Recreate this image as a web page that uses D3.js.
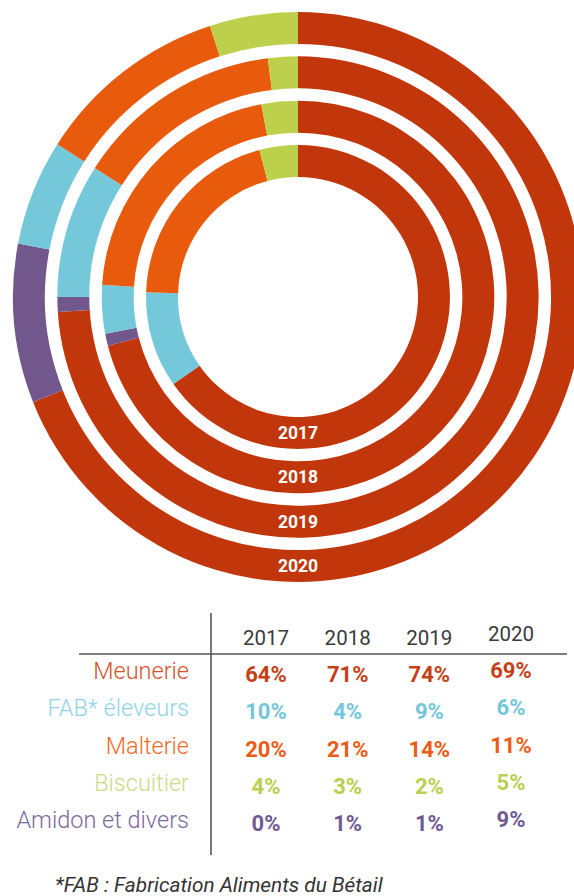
<!DOCTYPE html>
<html>
<head>
<meta charset="utf-8">
<script src="https://cdn.jsdelivr.net/npm/d3@7"></script>
<style>
  body { margin: 0; background: #fff; }
  svg { display: block; font-family: Roboto, "Open Sans", sans-serif; }
</style>
</head>
<body>
<div id="chart"></div>
<script>
// data
const years = ["2017", "2018", "2019", "2020"];
const categories = ["Meunerie", "FAB* éleveurs", "Malterie", "Biscuitier", "Amidon et divers"];
const meunerie = [64, 71, 74, 69];
const fab = [10, 4, 9, 6];
const malterie = [20, 21, 14, 11];
const biscuitier = [4, 3, 2, 5];
const amidon = [0, 1, 1, 9];
const footnote = "*FAB : Fabrication Aliments du Bétail";

function main() {
    const width = 574;
    const height = 896;

    const series = {
        "Meunerie": meunerie,
        "FAB* éleveurs": fab,
        "Malterie": malterie,
        "Biscuitier": biscuitier,
        "Amidon et divers": amidon
    };

    // ring colours / text colours
    const ringColor = d3.scaleOrdinal()
        .domain(categories)
        .range(["#c1370b", "#74c8da", "#e85a0c", "#bcd04b", "#72578d"]);
    const labelColor = d3.scaleOrdinal()
        .domain(categories)
        .range(["#d4532f", "#8fd4e4", "#f06a28", "#cadc8a", "#7d6a9c"]);
    const valueColor = d3.scaleOrdinal()
        .domain(categories)
        .range(["#c53f17", "#74c6da", "#ec5c16", "#b9cf50", "#6f5a93"]);

    // clockwise order of the slices starting at 12 o'clock
    const ringOrder = ["Meunerie", "Amidon et divers", "FAB* éleveurs", "Malterie", "Biscuitier"];

    const svg = d3.select("#chart").append("svg")
        .attr("width", width)
        .attr("height", height);

    const cx = 298, cy = 297;

    const radius = d3.scaleBand()
        .domain(years)
        .range([120, 285])
        .paddingInner(0.28);

    const pie = d3.pie().sort(null).value(d => d.value);
    const arc = d3.arc();

    const rings = svg.append("g")
        .attr("transform", `translate(${cx},${cy})`);

    years.forEach((yr, i) => {
        const rows = ringOrder.map(c => ({ key: c, value: series[c][i] }));
        const r0 = radius(yr), r1 = r0 + radius.bandwidth();
        rings.append("g")
            .selectAll("path")
            .data(pie(rows).filter(d => d.data.value > 0))
            .enter().append("path")
            .attr("fill", d => ringColor(d.data.key))
            .attr("d", d => arc.innerRadius(r0).outerRadius(r1)(d));

        rings.append("text")
            .attr("x", 0)
            .attr("y", (r0 + r1) / 2 + 6)
            .attr("text-anchor", "middle")
            .attr("fill", "#fff")
            .attr("font-size", 17.5)
            .attr("font-weight", 700)
            .text(yr);
    });

    // table
    const x = d3.scalePoint()
        .domain(years)
        .range([266, 511]);
    const y = d3.scalePoint()
        .domain(categories)
        .range([679, 828]);
    // last column sits a little higher in the original
    const colShift = yr => yr === "2020" ? -4 : 0;

    const table = svg.append("g");

    table.append("line")
        .attr("x1", 79).attr("x2", 567)
        .attr("y1", 654).attr("y2", 654)
        .attr("stroke", "#555")
        .attr("stroke-width", 1.6);

    table.append("line")
        .attr("x1", 211).attr("x2", 211)
        .attr("y1", 613).attr("y2", 855)
        .attr("stroke", "#555")
        .attr("stroke-width", 1.6);

    table.selectAll(".head")
        .data(years)
        .enter().append("text")
        .attr("class", "head")
        .attr("x", d => x(d))
        .attr("y", d => 645 + colShift(d))
        .attr("text-anchor", "middle")
        .attr("font-size", 20.5)
        .attr("fill", "#3a3a3a")
        .text(d => d);

    table.selectAll(".rowlabel")
        .data(categories)
        .enter().append("text")
        .attr("class", "rowlabel")
        .attr("x", 189)
        .attr("y", d => y(d))
        .attr("text-anchor", "end")
        .attr("font-size", 23.5)
        .attr("font-weight", 300)
        .attr("fill", d => labelColor(d))
        .text(d => d);

    categories.forEach(c => {
        table.append("g")
            .selectAll("text")
            .data(years)
            .enter().append("text")
            .attr("x", d => x(d))
            .attr("y", (d, i) => y(c) + 3 + colShift(d))
            .attr("text-anchor", "middle")
            .attr("font-size", 22)
            .attr("font-weight", 700)
            .attr("fill", valueColor(c))
            .text((d, i) => series[c][i] + "%");
    });

    svg.append("text")
        .attr("x", 55)
        .attr("y", 892)
        .attr("font-size", 20.8)
        .attr("font-style", "italic")
        .attr("fill", "#333")
        .text(footnote);
}
main();
</script>
</body>
</html>
